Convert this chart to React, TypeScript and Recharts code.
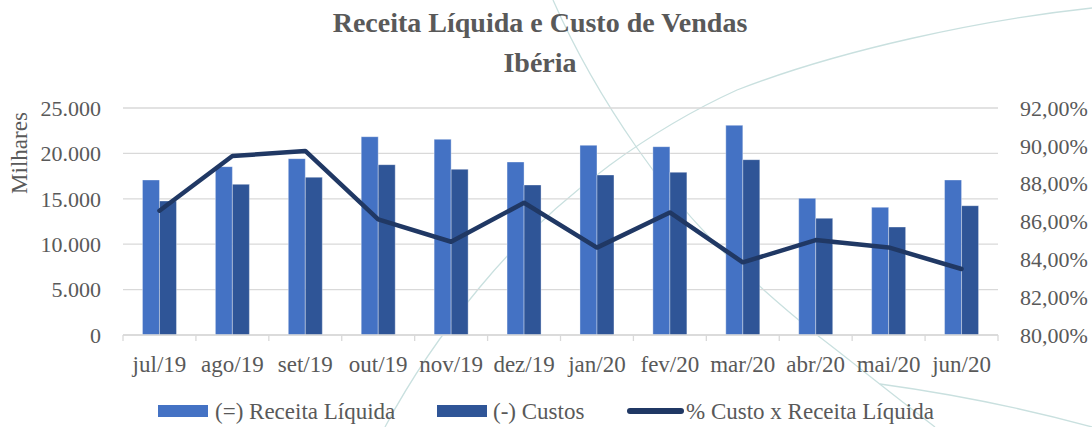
import React from 'react';
import { ComposedChart, Bar, Line, XAxis, YAxis, CartesianGrid } from 'recharts';

const months = ['jul/19', 'ago/19', 'set/19', 'out/19', 'nov/19', 'dez/19', 'jan/20', 'fev/20', 'mar/20', 'abr/20', 'mai/20', 'jun/20'];
const receita = [17070, 18540, 19420, 21840, 21550, 19050, 20890, 20740, 23090, 15050, 14060, 17070];
const custos = [14760, 16590, 17370, 18760, 18250, 16520, 17620, 17920, 19310, 12850, 11890, 14240];
const pctCusto = [86.57, 89.46, 89.73, 86.11, 84.93, 86.99, 84.62, 86.48, 83.84, 85.02, 84.63, 83.49];
const leftTicks = [0, 5000, 10000, 15000, 20000, 25000];
const rightTicks = [80, 82, 84, 86, 88, 90, 92];

const data = months.map((m, i) => ({ month: m, receita: receita[i], custos: custos[i], pct: pctCusto[i] }));

const W = 1092;
const H = 427;
const LEFT_W = 123;
const RIGHT_W = 94;
const PLOT_W = W - LEFT_W - RIGHT_W;
const FONT = "'Liberation Serif', 'Times New Roman', serif";
const TXT = '#595959';
const GRID = '#d9d9d9';
const C_REC = '#4472C4';
const C_CUS = '#2F5597';
const C_LINE = '#203864';

const fmtThousands = (v: number) => (v === 0 ? '0' : v.toLocaleString('de-DE'));
const fmtPct = (v: number) => v.toFixed(2).replace('.', ',') + '%';

const XTick = (props: any) => {
  const { x, y, payload, index } = props;
  const band = PLOT_W / months.length;
  return (
    <g>
      <line x1={x - band / 2} x2={x - band / 2} y1={y} y2={y + 6} stroke={GRID} strokeWidth={1.3} />
      {index === months.length - 1 && (
        <line x1={x + band / 2} x2={x + band / 2} y1={y} y2={y + 6} stroke={GRID} strokeWidth={1.3} />
      )}
      <text x={x} y={y + 37} textAnchor="middle" fill={TXT} fontFamily={FONT} fontSize={23}>
        {payload.value}
      </text>
    </g>
  );
};

export default function App() {
  return (
    <div style={{ position: 'absolute', left: 0, top: 0, width: W, height: H, background: '#fff', overflow: 'hidden' }}>
      <svg width={W} height={H} style={{ position: 'absolute', left: 0, top: 0 }}>
        <g fill="none" stroke="#c9e0df" strokeWidth={1.3}>
          <path d="M553,0 C575,50 600,95 637,148 C680,210 730,265 817,335 C850,360 880,385 935,427" />
          <path d="M1092,8 C980,20 840,50 737,90 C660,125 560,190 480,287 C440,335 410,380 385,427" />
          <path d="M880,384 C960,395 1030,410 1092,427" />
        </g>
        <text x={540} y={32} textAnchor="middle" fontFamily={FONT} fontSize={28} fontWeight="bold" fill={TXT}>
          Receita Líquida e Custo de Vendas
        </text>
        <text x={540} y={72} textAnchor="middle" fontFamily={FONT} fontSize={28} fontWeight="bold" fill={TXT}>
          Ibéria
        </text>
        <text x={27} y={153} textAnchor="middle" transform="rotate(-90 27 153)" fontFamily={FONT} fontSize={23} fill={TXT}>
          Milhares
        </text>
      </svg>
      <div style={{ position: 'absolute', left: 0, top: 0 }}>
        <ComposedChart
          width={W}
          height={H}
          data={data}
          margin={{ top: 108, right: 0, left: 0, bottom: 52 }}
          barCategoryGap="26.7%"
          barGap={0}
        >
          <CartesianGrid yAxisId="left" vertical={false} stroke={GRID} strokeWidth={1.3} />
          <XAxis
            dataKey="month"
            height={40}
            interval={0}
            tickLine={false}
            tickSize={0}
            tickMargin={0}
            axisLine={{ stroke: GRID, strokeWidth: 1.3 }}
            tick={(p: any) => <XTick {...p} />}
          />
          <YAxis
            yAxisId="left"
            width={LEFT_W}
            domain={[0, 25000]}
            ticks={leftTicks}
            tickFormatter={fmtThousands}
            axisLine={false}
            tickLine={false}
            tickSize={0}
            tickMargin={22}
            tick={{ fill: TXT, fontFamily: FONT, fontSize: 22 }}
          />
          <YAxis
            yAxisId="right"
            orientation="right"
            width={RIGHT_W}
            domain={[80, 92]}
            ticks={rightTicks}
            tickFormatter={fmtPct}
            axisLine={false}
            tickLine={false}
            tickSize={0}
            tickMargin={22}
            tick={{ fill: TXT, fontFamily: FONT, fontSize: 22, textAnchor: 'start' }}
          />
          <Bar yAxisId="left" dataKey="receita" fill={C_REC} stroke="rgba(255,255,255,0.35)" strokeWidth={1} isAnimationActive={false} />
          <Bar yAxisId="left" dataKey="custos" fill={C_CUS} stroke="rgba(255,255,255,0.35)" strokeWidth={1} isAnimationActive={false} />
          <Line
            yAxisId="right"
            dataKey="pct"
            stroke={C_LINE}
            strokeWidth={4.5}
            dot={false}
            activeDot={false}
            strokeLinecap="round"
            strokeLinejoin="round"
            isAnimationActive={false}
          />
        </ComposedChart>
      </div>
      <svg width={W} height={40} style={{ position: 'absolute', left: 0, top: 392 }}>
        <rect x={158} y={13} width={50} height={12} fill={C_REC} />
        <text x={215} y={27} fontFamily={FONT} fontSize={23} fill={TXT}>(=) Receita Líquida</text>
        <rect x={437} y={13} width={50} height={12} fill={C_CUS} />
        <text x={493} y={27} fontFamily={FONT} fontSize={23} fill={TXT}>(-) Custos</text>
        <line x1={630} x2={681} y1={19} y2={19} stroke={C_LINE} strokeWidth={6} strokeLinecap="round" />
        <text x={686} y={27} fontFamily={FONT} fontSize={23} fill={TXT}>% Custo x Receita Líquida</text>
      </svg>
    </div>
  );
}
